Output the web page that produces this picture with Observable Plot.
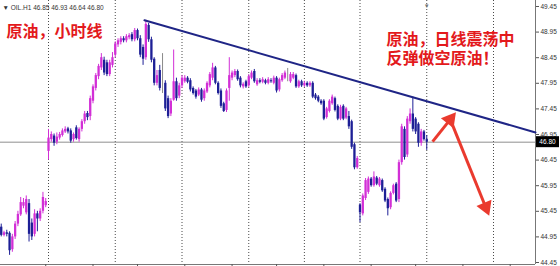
<!DOCTYPE html>
<html>
<head>
<meta charset="utf-8">
<script src="https://cdn.jsdelivr.net/npm/d3@7"></script>
<script src="https://cdn.jsdelivr.net/npm/@observablehq/plot@0.6"></script>
<style>
  body { margin: 0; background: #fff; }
  #chart { width: 560px; height: 266px; }
  #chart svg { display: block; }
</style>
</head>
<body>
<div id="chart"></div>
<script>
// OIL hourly candles, one array per trading session: [open, high, low, close]
const session1 = [
  [45.14, 45.20, 44.95, 44.98], [44.98, 45.06, 44.95, 45.03], [45.03, 45.08, 44.95, 45.00],
  [45.02, 45.05, 44.59, 44.68], [44.70, 45.00, 44.65, 44.95], [44.95, 45.25, 44.90, 45.20],
  [45.20, 45.45, 45.15, 45.39], [45.38, 45.72, 45.35, 45.62], [45.55, 45.70, 45.50, 45.62],
  [45.42, 45.75, 45.38, 45.68], [45.60, 45.68, 44.85, 45.00], [45.22, 45.30, 44.88, 44.95],
  [45.00, 45.48, 44.95, 45.40], [45.40, 45.45, 45.05, 45.30], [45.30, 45.50, 45.25, 45.45],
  [45.45, 45.82, 45.40, 45.72], [45.56, 45.70, 45.52, 45.64]
];
const session2 = [
  [46.62, 47.05, 46.45, 46.88], [46.85, 47.00, 46.80, 46.95], [46.92, 46.96, 46.72, 46.78],
  [46.80, 46.98, 46.75, 46.90], [46.88, 46.99, 46.84, 46.95], [46.93, 47.06, 46.90, 47.02],
  [47.00, 47.10, 46.97, 47.05], [47.06, 47.09, 46.96, 47.00], [47.02, 47.06, 46.78, 46.82],
  [46.85, 46.98, 46.80, 46.95], [47.08, 47.12, 46.84, 46.87], [46.85, 47.08, 46.80, 47.05],
  [47.05, 47.24, 47.00, 47.20], [47.20, 47.40, 47.15, 47.35], [47.36, 47.40, 47.22, 47.28],
  [47.30, 47.70, 47.22, 47.65], [47.60, 47.92, 47.55, 47.88], [47.85, 48.14, 47.80, 48.10],
  [48.08, 48.32, 48.02, 48.28], [48.25, 48.53, 48.20, 48.45], [48.40, 48.46, 48.10, 48.15],
  [48.35, 48.40, 48.08, 48.12], [48.12, 48.40, 48.08, 48.35], [48.30, 48.55, 48.25, 48.45]
];
const session3 = [
  [48.50, 48.76, 48.45, 48.72], [48.70, 48.82, 48.65, 48.78], [48.75, 48.86, 48.70, 48.82],
  [48.82, 48.86, 48.74, 48.78], [48.78, 48.90, 48.74, 48.86], [48.84, 48.92, 48.80, 48.88],
  [48.90, 48.94, 48.76, 48.80], [48.80, 49.02, 48.76, 48.98], [48.98, 49.01, 48.78, 48.82],
  [48.82, 48.88, 48.45, 48.50], [48.65, 48.70, 48.30, 48.42], [48.45, 49.18, 48.40, 49.10],
  [49.08, 49.12, 48.75, 48.80], [48.80, 48.85, 48.35, 48.40], [48.42, 48.45, 47.90, 47.95],
  [47.95, 48.20, 47.90, 48.10], [48.20, 48.30, 47.80, 47.85], [47.90, 48.53, 47.75, 47.90],
  [47.95, 48.00, 47.40, 47.45], [47.65, 47.70, 47.26, 47.30], [47.35, 47.65, 47.30, 47.60],
  [47.62, 48.60, 47.60, 47.98], [47.98, 48.05, 47.60, 47.65], [47.70, 47.95, 47.65, 47.90]
];
const session4 = [
  [47.90, 48.10, 47.85, 48.05], [47.98, 48.10, 47.95, 48.05], [48.05, 48.08, 47.94, 47.97],
  [48.00, 48.04, 47.78, 47.82], [47.85, 47.88, 47.72, 47.75], [47.80, 47.83, 47.64, 47.68],
  [47.72, 47.86, 47.69, 47.82], [47.82, 47.85, 47.58, 47.62], [47.65, 47.84, 47.60, 47.80],
  [47.78, 47.98, 47.75, 47.95], [47.90, 48.16, 47.86, 48.12], [48.05, 48.34, 48.00, 48.25],
  [48.25, 48.28, 47.92, 47.95], [47.95, 47.98, 47.72, 47.75], [47.80, 47.84, 47.46, 47.50],
  [47.55, 47.58, 47.38, 47.40], [47.42, 47.84, 47.38, 47.80], [47.85, 48.45, 47.60, 48.10],
  [48.05, 48.19, 48.00, 48.15], [48.10, 48.22, 48.06, 48.18], [48.18, 48.21, 47.99, 48.02],
  [48.05, 48.08, 47.86, 47.90], [47.88, 47.96, 47.84, 47.93], [47.98, 48.01, 47.85, 47.88]
];
const session5 = [
  [47.90, 48.12, 47.87, 48.08], [48.05, 48.19, 48.02, 48.15], [48.18, 48.22, 47.95, 47.98],
  [47.92, 48.04, 47.89, 48.00], [48.00, 48.04, 47.94, 47.97], [47.97, 48.06, 47.94, 48.02],
  [48.00, 48.03, 47.92, 47.95], [47.95, 48.06, 47.92, 48.02], [48.00, 48.04, 47.95, 47.98],
  [47.95, 48.09, 47.92, 48.05], [48.05, 48.08, 47.76, 47.80], [47.82, 48.05, 47.78, 48.02],
  [48.00, 48.14, 47.97, 48.10], [48.05, 48.19, 48.02, 48.15], [48.10, 48.24, 47.98, 48.10],
  [47.98, 48.16, 47.95, 48.12], [48.05, 48.16, 48.02, 48.12], [48.10, 48.13, 47.85, 47.88],
  [47.88, 48.01, 47.85, 47.98], [47.98, 48.01, 47.87, 47.90]
];
const session6 = [
  [47.90, 47.99, 47.87, 47.95], [47.95, 47.98, 47.87, 47.90], [47.90, 47.98, 47.87, 47.95],
  [47.95, 47.98, 47.65, 47.68], [47.72, 47.75, 47.62, 47.65], [47.68, 47.71, 47.57, 47.60],
  [47.60, 47.63, 47.52, 47.55], [47.60, 47.63, 47.22, 47.25], [47.28, 47.48, 47.25, 47.45],
  [47.40, 47.63, 47.37, 47.60], [47.55, 47.72, 47.52, 47.68], [47.65, 47.68, 47.39, 47.42],
  [47.50, 47.53, 47.22, 47.25], [47.25, 47.52, 47.22, 47.48], [47.50, 47.53, 47.22, 47.25],
  [47.27, 47.48, 47.24, 47.45], [47.30, 47.40, 47.05, 47.10], [47.20, 47.23, 46.66, 46.70],
  [46.75, 46.78, 46.26, 46.30], [46.30, 46.52, 46.27, 46.48]
];
const session7 = [
  [45.57, 45.60, 45.23, 45.42], [45.40, 45.79, 45.36, 45.75], [45.70, 46.09, 45.66, 46.05],
  [45.82, 46.12, 45.78, 46.08], [46.08, 46.11, 45.92, 45.95], [45.95, 46.22, 45.92, 46.12],
  [46.10, 46.13, 45.95, 45.98], [45.95, 46.11, 45.92, 46.08], [46.05, 46.08, 45.82, 45.85],
  [45.88, 45.91, 45.62, 45.65], [45.68, 45.71, 45.36, 45.50], [45.52, 45.83, 45.48, 45.80],
  [45.80, 45.98, 45.77, 45.95], [45.98, 46.01, 45.62, 45.65], [45.68, 46.45, 45.62, 46.40],
  [46.40, 47.15, 46.35, 47.10], [47.05, 47.10, 46.45, 46.50], [46.55, 47.30, 46.50, 47.25],
  [47.20, 47.45, 47.15, 47.35], [47.35, 47.68, 47.00, 47.05], [47.25, 47.28, 46.95, 47.00],
  [47.15, 47.18, 46.70, 46.78], [46.78, 47.05, 46.72, 47.00], [47.00, 47.03, 46.82, 46.85]
];
const session8 = [
  [46.85, 46.93, 46.64, 46.80]
];

const symbol = "OIL.H1";
const priceTicks = [49.45, 48.95, 48.45, 47.95, 47.45, 46.95, 46.45, 45.95, 45.45, 44.95, 44.45];
// bar numbers where each session begins (dotted separators)
const sessionStarts = [17, 41, 65, 89, 109, 129, 153, 177];
// bar numbers of the time-axis ticks
const timeTicks = [16, 33, 49, 66, 83, 99, 116, 133, 149, 166, 183];
// descending resistance line: [bar, price]
const trendline = [[51.5, 49.18], [192.1, 46.99]];
// projected path: rebound to resistance, then a drop
const forecast = [
  {x1: 155.1, y1: 46.81, x2: 161.4, y2: 47.24},
  {x1: 161.2, y1: 47.28, x2: 174.2, y2: 45.53}
];
const title = "原油，小时线";
const note = "原油，日线震荡中\n反弹做空原油！";

const candles = [session1, session2, session3, session4, session5, session6, session7, session8]
  .flat()
  .map(([o, h, l, c], i) => ({i, o, h, l, c}));
const last = candles[candles.length - 1];

const bull = "#d22fd6", bear = "#1d1f96", flat = "#8a8a8a";
const candleColor = d => d.c > d.o ? bull : d.c < d.o ? bear : flat;
const red = "#e3191c";
const arrowRed = "#ea3a2e";
const cjk = "'Noto Sans CJK SC', sans-serif";

const width = 560, height = 266;
const margin = {left: 0, right: 25, top: 0, bottom: 2};
const xDomain = [-0.26, 192.1];
const yDomain = [44.411, 49.567];

// screen direction of each arrow, for orienting its head
const kx = (width - margin.left - margin.right) / (xDomain[1] - xDomain[0]);
const ky = (height - margin.top - margin.bottom) / (yDomain[1] - yDomain[0]);
const heading = d => Math.atan2((d.x2 - d.x1) * kx, (d.y2 - d.y1) * ky) * 180 / Math.PI;

const header = `▼ ${symbol} ${[last.o, last.h, last.l, last.c].map(v => v.toFixed(2)).join(" ")}`;

const redText = (text, dx, dy, extra = {}) => Plot.text([text], {
  frameAnchor: "top-left", dx, dy, lineAnchor: "middle",
  fontSize: 16, fontWeight: 700, fill: red, fontFamily: cjk, ...extra
});

const plot = Plot.plot({
  width,
  height,
  marginLeft: margin.left,
  marginRight: margin.right,
  marginTop: margin.top,
  marginBottom: margin.bottom,
  x: {domain: xDomain, axis: null},
  y: {domain: yDomain, axis: null},
  style: {background: "#fff", fontFamily: "'Liberation Sans', Arial, sans-serif", overflow: "visible"},
  marks: [
    // session separators
    Plot.ruleX(sessionStarts, {stroke: "#4a4a4a", strokeDasharray: "1,2", strokeWidth: 1}),
    // current bid line
    Plot.ruleY([last.c], {stroke: "#8f8f8f", strokeWidth: 1}),
    // frame
    Plot.ruleX([xDomain[1]], {stroke: "#777", strokeWidth: 1}),
    Plot.ruleY([yDomain[0]], {stroke: "#777", strokeWidth: 1}),
    Plot.axisY(priceTicks, {
      anchor: "right", tickSize: 3, tickPadding: 2, fontSize: 6.5, fill: "#333", stroke: "#555",
      tickFormat: d => d.toFixed(2)
    }),
    Plot.axisX(timeTicks, {anchor: "bottom", tickSize: 3, stroke: "#555", tickFormat: () => ""}),
    // candles: wick then body
    Plot.ruleX(candles, {x: "i", y1: "l", y2: "h", stroke: candleColor, strokeWidth: 1}),
    Plot.ruleX(candles, {x: "i", y1: "o", y2: "c", stroke: candleColor, strokeWidth: 2.3}),
    // resistance line
    Plot.line(trendline, {x: d => d[0], y: d => d[1], stroke: "#1f2586", strokeWidth: 2}),
    // forecast arrows: shaft plus a solid head
    Plot.link(forecast, {x1: "x1", y1: "y1", x2: "x2", y2: "y2", stroke: arrowRed, strokeWidth: 3}),
    Plot.dot(forecast, {x: "x2", y: "y2", symbol: "triangle", r: 6, fill: arrowRed, stroke: "none",
      rotate: heading}),
    // chart shift marker
    Plot.text(["▼"], {x: last.i, frameAnchor: "top", dy: 3, fontSize: 6, fill: "#777"}),
    // header
    Plot.text([header], {frameAnchor: "top-left", dx: 2, dy: 7.5, lineAnchor: "middle",
      fontSize: 6.5, fill: "#333"}),
    // annotations
    redText(title, 6, 31.5),
    redText(note, 386, 48, {lineHeight: 1.19})
  ]
});

// last-price tag on the price axis
const yPx = plot.scale("y").apply(last.c);
const svg = d3.select(plot);
const tag = svg.append("g");
tag.append("rect").attr("x", 536).attr("y", yPx - 5.5).attr("width", 23).attr("height", 11).attr("fill", "#000");
tag.append("text").attr("x", 547.5).attr("y", yPx).attr("dy", "0.35em").attr("text-anchor", "middle")
  .attr("font-size", 6.5).attr("fill", "#fff").attr("font-family", "'Liberation Sans', Arial, sans-serif")
  .text(last.c.toFixed(2));

document.getElementById("chart").append(plot);
</script>
</body>
</html>
